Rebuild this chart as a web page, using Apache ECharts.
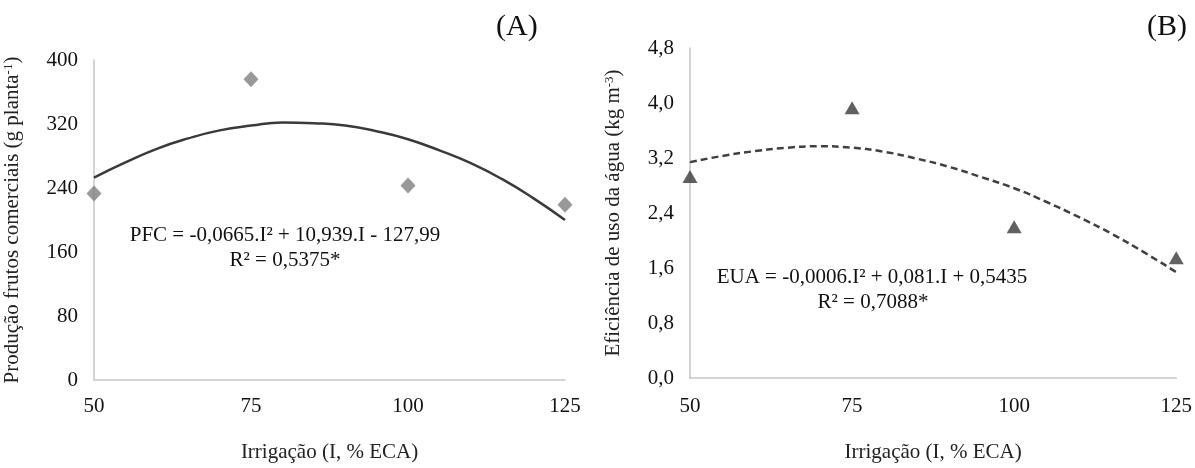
<!DOCTYPE html>
<html>
<head>
<meta charset="utf-8">
<script src="https://cdn.jsdelivr.net/npm/echarts@6/dist/echarts.min.js"></script>
<style>
html,body{margin:0;padding:0;background:#fff;}
#chart{width:1195px;height:468px;}
</style>
</head>
<body>
<div id="chart"></div>
<script>
// ---- data ----
const irrigationTicks = [50, 75, 100, 125];
const pfcObserved = [233, 376, 243, 219];          // Panel A points (g planta-1)
const euaObserved = [2.93, 3.93, 2.20, 1.75];      // Panel B points (kg m-3)
const trendX = [50, 55, 60, 65, 70, 75, 80, 85, 90, 95, 100, 105, 110, 115, 120, 125];
const pfcTrend = [253, 272, 289, 302, 312, 318, 322, 321, 318, 311, 301, 287, 271, 251, 227, 200];
const euaTrend = [3.14, 3.23, 3.30, 3.35, 3.37, 3.35, 3.29, 3.19, 3.07, 2.92, 2.76, 2.56, 2.34, 2.10, 1.83, 1.54];
const pfcTicks = [0, 80, 160, 240, 320, 400];
const euaTicks = [0, 0.8, 1.6, 2.4, 3.2, 4.0, 4.8];
const eqA = ['PFC = -0,0665.I² + 10,939.I - 127,99', 'R² = 0,5375*'];
const eqB = ['EUA = -0,0006.I² + 0,081.I + 0,5435', 'R² = 0,7088*'];

const FONT = '"Liberation Serif", "Times New Roman", serif';
const pair = (xs, ys) => xs.map((x, i) => [x, ys[i]]);

const chart = echarts.init(document.getElementById('chart'), null, {renderer: 'canvas'});

function xAxisCfg(gridIndex, gap, margin) {
  return {
    gridIndex, type: 'value', min: 50, max: 125, interval: 25,
    name: 'Irrigação (I, % ECA)', nameLocation: 'middle', nameGap: gap,
    nameTextStyle: {fontFamily: FONT, fontSize: 21, color: '#222'},
    axisLine: {show: true, onZero: false, lineStyle: {color: '#c6c6c6', width: 1.5}},
    axisTick: {show: false},
    splitLine: {show: false},
    axisLabel: {fontFamily: FONT, fontSize: 21, color: '#111', margin: margin}
  };
}

const option = {
  animation: false,
  backgroundColor: '#fff',
  grid: [
    {left: 94, right: 630, top: 60, bottom: 81},
    {left: 690, right: 18, top: 48, bottom: 74}
  ],
  xAxis: [xAxisCfg(0, 62, 16), xAxisCfg(1, 64, 18)],
  yAxis: [
    {
      gridIndex: 0, type: 'value', min: pfcTicks[0], max: pfcTicks[pfcTicks.length - 1], interval: 80,
      name: 'Produção frutos comerciais (g planta{sup|-1})', nameLocation: 'middle', nameGap: 71, nameRotate: 90,
      nameTextStyle: {fontFamily: FONT, fontSize: 21, color: '#222',
        rich: {sup: {fontFamily: FONT, fontSize: 13, verticalAlign: 'top', lineHeight: 14, color: '#222'}}},
      axisLine: {show: true, lineStyle: {color: '#c6c6c6', width: 1.5}},
      axisTick: {show: false}, splitLine: {show: false},
      axisLabel: {fontFamily: FONT, fontSize: 21, color: '#111', margin: 16}
    },
    {
      gridIndex: 1, type: 'value', min: euaTicks[0], max: euaTicks[euaTicks.length - 1], interval: 0.8,
      name: 'Eficiência de uso da água (kg m{sup|-3})', nameLocation: 'middle', nameGap: 66, nameRotate: 90,
      nameTextStyle: {fontFamily: FONT, fontSize: 21, color: '#222',
        rich: {sup: {fontFamily: FONT, fontSize: 13, verticalAlign: 'top', lineHeight: 14, color: '#222'}}},
      axisLine: {show: true, lineStyle: {color: '#c6c6c6', width: 1.5}},
      axisTick: {show: false}, splitLine: {show: false},
      axisLabel: {fontFamily: FONT, fontSize: 21, color: '#111', margin: 16,
        formatter: v => v.toFixed(1).replace('.', ',')}
    }
  ],
  series: [
    {
      type: 'line', xAxisIndex: 0, yAxisIndex: 0, data: pair(trendX, pfcTrend),
      smooth: true, showSymbol: false, lineStyle: {color: '#3a3a3a', width: 2.5}, z: 2
    },
    {
      type: 'scatter', xAxisIndex: 0, yAxisIndex: 0, data: pair(irrigationTicks, pfcObserved),
      symbol: 'diamond', symbolSize: [15, 16], itemStyle: {color: '#808080'}, z: 3
    },
    {
      type: 'line', xAxisIndex: 1, yAxisIndex: 1, data: pair(trendX, euaTrend),
      smooth: true, showSymbol: false, lineStyle: {color: '#404040', width: 2.5, type: [7, 4]}, z: 2
    },
    {
      type: 'scatter', xAxisIndex: 1, yAxisIndex: 1, data: pair(irrigationTicks, euaObserved),
      symbol: 'triangle', symbolSize: [15, 13], itemStyle: {color: '#3a3a3a'}, z: 3
    }
  ],
  graphic: [
    {type: 'text', left: 496, top: 12, style: {text: '(A)', font: '30px ' + FONT, fill: '#111'}},
    {type: 'text', left: 1147, top: 12, style: {text: '(B)', font: '30px ' + FONT, fill: '#111'}},
    {type: 'text', x: 285, y: 235, style: {text: eqA[0], font: '21px ' + FONT, fill: '#111', align: 'center', verticalAlign: 'middle'}},
    {type: 'text', x: 285, y: 260, style: {text: eqA[1], font: '21px ' + FONT, fill: '#111', align: 'center', verticalAlign: 'middle'}},
    {type: 'text', x: 872, y: 277, style: {text: eqB[0], font: '21px ' + FONT, fill: '#111', align: 'center', verticalAlign: 'middle'}},
    {type: 'text', x: 873, y: 302, style: {text: eqB[1], font: '21px ' + FONT, fill: '#111', align: 'center', verticalAlign: 'middle'}}
  ]
};
chart.setOption(option);
</script>
</body>
</html>
